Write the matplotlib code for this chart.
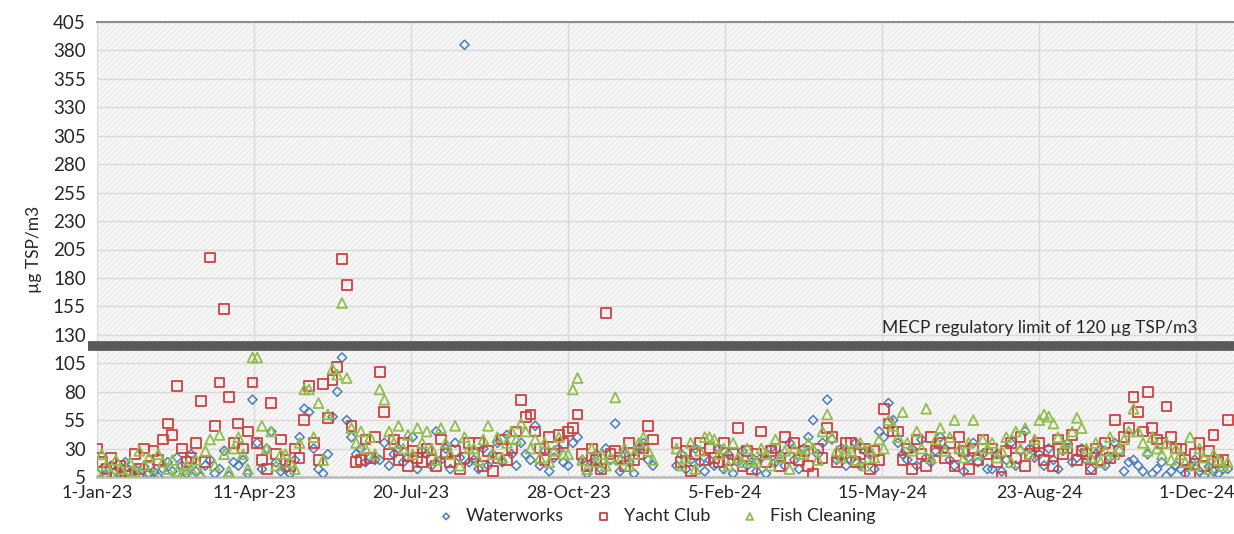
import numpy as np
import matplotlib
matplotlib.use("Agg")
import matplotlib.pyplot as plt
import matplotlib.dates as mdates
from matplotlib.patches import Rectangle

nan = np.nan

# sampling dates, every 3 days from 1-Jan-23
dates = np.arange(np.datetime64("2023-01-01"), np.datetime64("2024-12-22"), np.timedelta64(3, "D"))

waterworks = [
    8, 12, 6, 15, 10, 7, 18, 9, 12, 6,
    14, 8, 10, 5, 12, 18, 10, 22, 15, 8,
    25, 10, 5, 15, 20, 8, 12, 28, 6, 18,
    15, 20, 8, 73, 35, 12, 30, 45, 18, 10,
    12, 8, 20, 40, 65, 62, 30, 12, 8, 25,
    58, 80, 110, 55, 40, 25, 30, 18, 22, 20,
    20, 35, 15, 25, 30, 18, 22, 40, 12, 28,
    25, 15, 45, 20, 30, 12, 35, 22, 385, 18,
    20, 12, 30, 15, 25, 35, 18, 42, 25, 15,
    35, 25, 20, 50, 15, 28, 10, 22, 30, 18,
    15, 35, 40, 20, 8, 18, 25, 12, 30, 20,
    52, 10, 25, 18, 8, 30, 35, 20, 15, nan,
    nan, nan, nan, 15, 25, 12, 20, 30, 18, 10,
    20, 15, 30, 12, 25, 8, 18, 28, 15, 22,
    10, 22, 8, 30, 18, 25, 15, 35, 20, 12,
    30, 40, 55, 25, 35, 73, 38, 20, 30, 15,
    20, 35, 15, 28, 25, 12, 45, 40, 70, 55,
    35, 25, 20, 30, 15, 38, 22, 18, 28, 40,
    30, 20, 15, 28, 10, 22, 35, 18, 25, 12,
    12, 25, 10, 20, 35, 15, 28, 45, 30, 22,
    25, 15, 30, 20, 12, 28, 35, 18, 22, 30,
    20, 12, 25, 30, 15, 22, 35, 28, 10, 18,
    20, 15, 10, 25, 8, 12, 18, 6, 10, 15,
    12, 8, 15, 20, 10, 6, 14, 10, 8, 12,
    12,
]

yacht_club = [
    30, 18, 12, 22, 8, 15, 10, 6, 25, 12,
    30, 15, 28, 20, 38, 52, 42, 85, 30, 18,
    22, 35, 72, 18, 198, 50, 88, 153, 75, 35,
    52, 30, 45, 88, 35, 20, 12, 70, 25, 38,
    20, 15, 30, 22, 55, 85, 35, 20, 87, 57,
    90, 102, 197, 174, 50, 18, 20, 38, 22, 40,
    97, 62, 25, 38, 20, 35, 15, 28, 22, 18,
    30, 20, 15, 38, 25, 18, 28, 12, 22, 35,
    25, 35, 15, 28, 10, 22, 38, 20, 30, 45,
    73, 58, 60, 45, 30, 20, 40, 25, 42, 35,
    45, 48, 60, 25, 15, 30, 20, 12, 149, 25,
    28, 22, 15, 35, 20, 25, 30, 50, 38, nan,
    nan, nan, nan, 35, 18, 28, 10, 25, 35, 20,
    30, 22, 18, 35, 20, 25, 48, 15, 28, 12,
    25, 45, 18, 28, 30, 15, 40, 22, 35, 20,
    28, 15, 8, 30, 22, 48, 40, 18, 25, 35,
    35, 18, 25, 30, 12, 28, 20, 65, 52, 45,
    45, 20, 30, 12, 38, 25, 15, 40, 28, 35,
    22, 35, 15, 40, 28, 12, 30, 20, 38, 25,
    30, 18, 5, 28, 35, 22, 40, 15, 25, 32,
    35, 20, 28, 15, 38, 25, 30, 42, 20, 28,
    25, 12, 30, 20, 35, 22, 55, 28, 40, 48,
    75, 62, 45, 80, 48, 38, 35, 67, 40, 30,
    30, 20, 8, 25, 35, 15, 28, 42, 18, 20,
    55,
]

fish_cleaning = [
    10, 25, 15, 8, 20, 12, 6, 18, 10, 28,
    15, 22, 8, 25, 18, 12, 20, 10, 8, 15,
    12, 20, 8, 28, 38, 15, 42, 25, 10, 30,
    40, 25, 12, 110, 110, 50, 30, 45, 15, 25,
    25, 18, 12, 35, 82, 82, 40, 70, 20, 60,
    100, 95, 158, 92, 48, 35, 45, 30, 40, 25,
    82, 73, 45, 35, 50, 30, 42, 25, 48, 35,
    45, 30, 20, 48, 35, 25, 50, 15, 40, 30,
    30, 20, 38, 50, 25, 40, 22, 35, 45, 38,
    52, 45, 30, 38, 22, 35, 18, 28, 40, 25,
    25, 82, 92, 20, 12, 30, 18, 25, 15, 22,
    75, 20, 30, 15, 25, 35, 40, 28, 20, nan,
    nan, nan, nan, 30, 15, 22, 35, 12, 28, 40,
    40, 38, 25, 30, 15, 35, 22, 18, 30, 20,
    18, 30, 25, 15, 38, 22, 28, 12, 30, 25,
    25, 35, 30, 20, 45, 60, 40, 28, 22, 30,
    28, 20, 35, 15, 30, 22, 38, 30, 55, 50,
    40, 62, 35, 28, 45, 30, 65, 22, 38, 48,
    28, 40, 55, 30, 22, 35, 55, 25, 38, 30,
    35, 22, 28, 40, 18, 45, 30, 48, 25, 38,
    55, 60, 58, 52, 40, 30, 35, 45, 57, 48,
    30, 22, 35, 18, 28, 40, 25, 30, 38, 45,
    65, 45, 35, 28, 40, 30, 25, 35, 20, 30,
    25, 18, 40, 15, 30, 22, 12, 25, 20, 15,
    18,
]

tick_dates = ["2023-01-01", "2023-04-11", "2023-07-20", "2023-10-28",
              "2024-02-05", "2024-05-15", "2024-08-23", "2024-12-01"]
tick_labels = ["1-Jan-23", "11-Apr-23", "20-Jul-23", "28-Oct-23",
               "5-Feb-24", "15-May-24", "23-Aug-24", "1-Dec-24"]
limit = 120

plt.rcParams["font.family"] = ["Lato", "DejaVu Sans"]
plt.rcParams["hatch.linewidth"] = 0.5

fig = plt.figure(figsize=(12.34, 5.34), dpi=100)
ax = fig.add_axes([97 / 1234, 1 - 477 / 534, 1 - 97 / 1234, (477 - 22) / 534])

# excel-style patterned plot area
ax.add_patch(Rectangle((0, 0), 1, 1, transform=ax.transAxes, facecolor="#f7f7f7",
                       edgecolor="#e0e0e0", hatch="//////", lw=0, zorder=0))

x = mdates.date2num(dates.astype("datetime64[D]").astype(object))
ax.scatter(x, waterworks, marker="D", s=22, facecolors="none", edgecolors="#4a7ebb",
           linewidths=1.1, label="Waterworks", zorder=3)
ax.scatter(x, yacht_club, marker="s", s=50, facecolors="none", edgecolors="#d04040",
           linewidths=1.3, label="Yacht Club", zorder=3)
ax.scatter(x, fish_cleaning, marker="^", s=50, facecolors="none", edgecolors="#8fbf4a",
           linewidths=1.3, label="Fish Cleaning", zorder=4)

tx = [mdates.date2num(np.datetime64(d).astype(object)) for d in tick_dates]

# limit line runs a little past the left edge, like the original
ax.plot([tx[0] - 6, tx[0] + 724], [limit, limit], color="#595959", lw=7,
        solid_capstyle="butt", clip_on=False, zorder=5)
ax.text(mdates.date2num(np.datetime64("2024-08-23").astype(object)), 136,
        "MECP regulatory limit of 120 µg TSP/m3", ha="center", va="center",
        fontsize=12.5, color="#262626", zorder=6)

ax.set_xticks(tx)
ax.set_xticklabels(tick_labels, fontsize=13, color="#262626")
ax.set_xlim(tx[0], tx[0] + 724)
ax.set_ylim(5, 405)
ax.set_yticks(range(5, 406, 25))
ax.tick_params(axis="y", labelsize=13.5, labelcolor="#262626", length=0, pad=8)
ax.tick_params(axis="x", length=0, pad=6)
ax.grid(True, color="#d9d9d9", lw=1, zorder=1)
ax.set_axisbelow(True)

for s in ["left", "right"]:
    ax.spines[s].set_visible(False)
ax.spines["top"].set_color("#8c8c8c")
ax.spines["top"].set_linewidth(1.5)
ax.spines["bottom"].set_color("#bfbfbf")
ax.spines["bottom"].set_linewidth(2)

ax.set_ylabel("µg TSP/m3", fontsize=12.5, color="#262626", labelpad=8)

fig.legend(loc="lower center", bbox_to_anchor=(0.528, -0.012), ncol=3, frameon=False,
           fontsize=13, markerscale=0.7, handletextpad=0.1, columnspacing=1.2,
           labelcolor="#262626")

fig.savefig("out.png", dpi=100)
